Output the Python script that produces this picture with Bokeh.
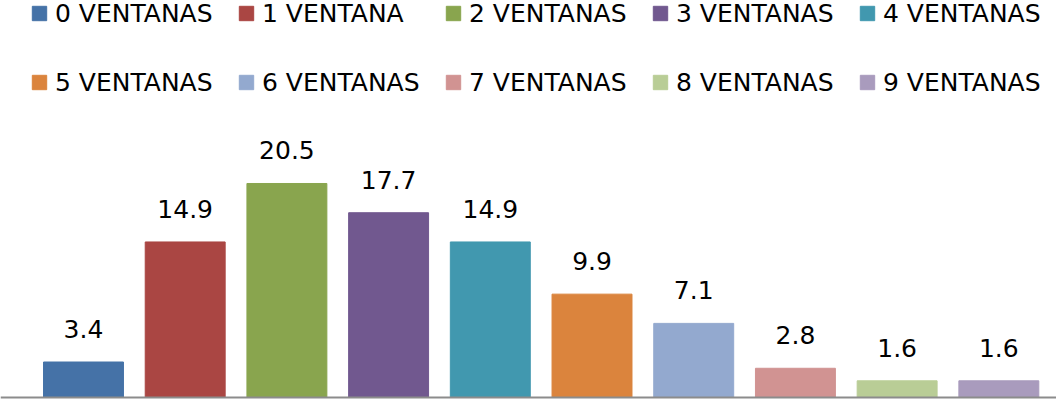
import numpy as np
from bokeh.plotting import figure
from bokeh.models import ColumnDataSource, Legend, LegendItem, Span, Range1d
from bokeh.embed import file_html
from bokeh.resources import INLINE
from bokeh.core.properties import value

categories = ["0 VENTANAS", "1 VENTANA", "2 VENTANAS", "3 VENTANAS", "4 VENTANAS",
              "5 VENTANAS", "6 VENTANAS", "7 VENTANAS", "8 VENTANAS", "9 VENTANAS"]
values = [3.4, 14.9, 20.5, 17.7, 14.9, 9.9, 7.1, 2.8, 1.6, 1.6]
colors = ["#4572A7", "#AA4643", "#89A54E", "#71588F", "#4198AF",
          "#DB843D", "#93A9CF", "#D19392", "#B9CD96", "#A99BBD"]

FONT_NAME = "DejaVu Sans"
FS = "25px"
W, H = 1056, 400

src = ColumnDataSource(dict(
    x=list(range(len(categories))),
    top=values,
    color=colors,
    label=[f"{v:.1f}" for v in values],
    cat=categories,
))

p = figure(width=W, height=H, output_backend="svg", toolbar_location=None,
           x_range=Range1d(-0.816, 9.567), y_range=Range1d(-0.287, 38.03),
           x_axis_location=None, y_axis_location=None, min_border=0,
           outline_line_color=None, background_fill_color="white",
           border_fill_color="white")
p.grid.visible = False

r = p.vbar(x="x", top="top", bottom=0, width=0.786, fill_color="color",
           line_color="color", source=src)
p.text(x="x", y="top", text="label", source=src, text_align="center",
       text_baseline="alphabetic", y_offset=-33, text_font=value(FONT_NAME),
       text_font_size=FS, text_color="#000000")
p.add_layout(Span(location=0, dimension="width", line_color="#8C8C8C", line_width=2))

items = [LegendItem(label=c, renderers=[r], index=i) for i, c in enumerate(categories)]
h = 29
for row, center in enumerate([13, 82]):
    leg = Legend(items=items[5 * row:5 * row + 5], orientation="horizontal",
                 location=(30, H - center - h / 2), padding=0, margin=0,
                 spacing=0, glyph_width=18, glyph_height=18, label_standoff=7,
                 label_width=182, border_line_color=None, background_fill_alpha=0,
                 label_text_font=FONT_NAME, label_text_font_size=FS,
                 label_text_color="#000000")
    p.add_layout(leg, "center")

open("out.html", "w").write(file_html(p, INLINE))
